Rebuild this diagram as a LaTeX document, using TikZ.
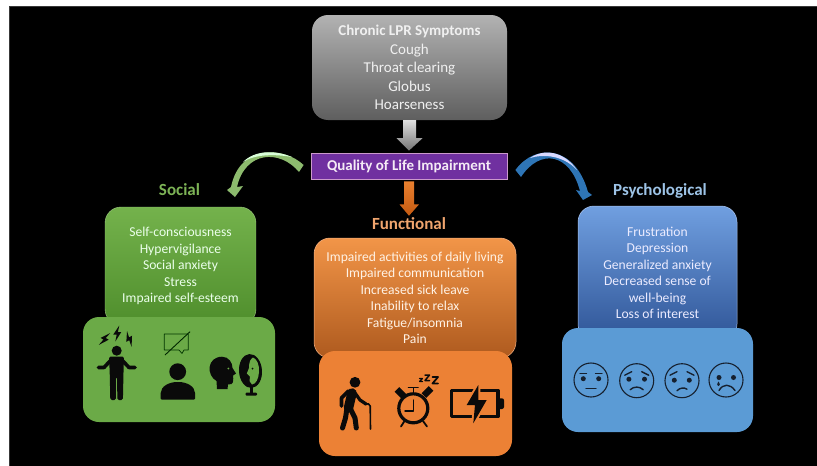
\documentclass[tikz,border=0pt]{standalone}
\usepackage{fontspec}
\setmainfont{Carlito}
\usetikzlibrary{calc}
\definecolor{inkd}{HTML}{0A0A0A}
\definecolor{facel}{HTML}{16202E}
\definecolor{HTMLpurple}{HTML}{7030A0}
\definecolor{HTMLgreenT}{HTML}{74B24C}
\definecolor{HTMLgreenB}{HTML}{4F8E2C}
\definecolor{HTMLgreenH}{HTML}{7DB356}
\definecolor{HTMLgreenL}{HTML}{6BAA47}
\definecolor{HTMLgreenA}{HTML}{8DBB6E}
\definecolor{HTMLgreenP}{HTML}{A9D18E}
\definecolor{HTMLorangeT}{HTML}{F29548}
\definecolor{HTMLorangeB}{HTML}{AE5A1E}
\definecolor{HTMLorangeE}{HTML}{F4B183}
\definecolor{HTMLorangeH}{HTML}{F0A56E}
\definecolor{HTMLorangeL}{HTML}{EC8135}
\definecolor{HTMLorangeA}{HTML}{E9802F}
\definecolor{HTMLorangeC}{HTML}{C55A11}
\definecolor{HTMLblueT}{HTML}{709FE0}
\definecolor{HTMLblueB}{HTML}{2F5597}
\definecolor{HTMLblueE}{HTML}{A9C4EE}
\definecolor{HTMLblueH}{HTML}{9DC3E6}
\definecolor{HTMLblueL}{HTML}{5B9BD5}
\definecolor{HTMLblueA}{HTML}{2E75B6}
\tikzset{
 upper/.style={rounded corners=16pt,inner sep=0pt,align=center,text=#1},
 lower/.style={rounded corners=16pt,inner sep=0pt,fill=#1},
 head/.style={font=\fontsize{17}{20}\selectfont\bfseries,inner sep=0pt,text=#1},
 ic/.style={fill=inkd,draw=none},
 iln/.style={draw=inkd,line cap=round,line join=round},
 fc/.style={draw=facel,line width=1.1pt,line cap=round},
 eye/.style={fill=facel,draw=none},
 brow/.style={draw=facel,line width=1.4pt,line cap=round},
 bolt/.pic={\fill[inkd] (2,-8) -- (-4,1) -- (-0.6,1) -- (-2,8) -- (4,-1.5) -- (0.6,-1.5) -- cycle;},
 faceone/.pic={\draw[fc] (0,0) circle (17pt);
  \fill[eye] (-7.7,-1.3) circle (2.5pt) (7.7,-1.3) circle (2.5pt);
  \draw[brow] (-11,-6.5) -- (-4.5,-6.5) (4.5,-6.5) -- (11,-6.5);
  \draw[brow] (-5,8.5) -- (5,8.5);},
 facetwo/.pic={\draw[fc] (0,0) circle (17pt);
  \fill[eye] (-7.8,-1.5) circle (2.5pt) (7.8,-1.5) circle (2.5pt);
  \draw[brow] (-12,-5.5) -- (-5,-9) (5,-9) -- (12,-5.5);
  \draw[brow] (-6.5,9) .. controls (-3,5.5) and (3,5.5) .. (6.5,9);},
 facethree/.pic={\draw[fc] (0,0) circle (17pt);
  \fill[eye] (-7.7,-0.5) circle (2.5pt) (7.3,-0.5) circle (2.5pt);
  \draw[brow] (-12,-5.5) -- (-5,-9) (5,-9) -- (12,-5.5);
  \draw[brow] (-5,10) .. controls (-2,7) and (2,6.5) .. (5,8.5);},
 facefour/.pic={\draw[fc] (0,0) circle (17pt);
  \fill[eye] (-7,-2.5) circle (2.5pt) (7.5,-2.5) circle (2.5pt);
  \fill[eye] (-7.5,1.5) .. controls (-9.5,4.5) and (-9,6) .. (-7.5,6) .. controls (-6,6) and (-5.5,4.5) .. (-7.5,1.5) -- cycle;
  \draw[brow] (-7,10.5) .. controls (-3,3.5) and (4,3.5) .. (9,10.5);},
}
\begin{document}
\begin{tikzpicture}[x=1pt,y=-1pt]
\path[use as bounding box,fill=white] (0,0) rectangle (817,466);
\fill[black,draw=black!78,line width=0.8pt] (9.5,6.5) rectangle (830,480);

% upper cards
\node[upper=white!88!gray,top color=black!30,bottom color=black!63,minimum width=195pt,minimum height=105pt,font=\fontsize{15}{18.4}\selectfont] (sym) at (409.5,67.5)
 {\textbf{Chronic LPR Symptoms}\\Cough\\Throat clearing\\Globus\\Hoarseness};
\node[draw=white!60!violet,line width=0.8pt,fill=HTMLpurple,inner sep=0pt,minimum width=196pt,minimum height=26pt,text=white!92!violet,font=\fontsize{15}{16}\selectfont\bfseries] (qol) at (409,166) {\raisebox{-1.5pt}{Quality of Life Impairment}};

\node[upper=white!92!green,draw=HTMLgreenT!70!white,line width=0.4pt,top color=HTMLgreenT,bottom color=HTMLgreenB,minimum width=151pt,minimum height=118pt,font=\fontsize{13.6}{16.5}\selectfont] (soc) at (180.5,266)
 {Self-consciousness\\Hypervigilance\\Social anxiety\\Stress\\Impaired self-esteem};
\node[upper=white!90!orange,draw=HTMLorangeE,line width=0.5pt,top color=HTMLorangeT,bottom color=HTMLorangeB,minimum width=202pt,minimum height=120pt,font=\fontsize{13.6}{16.5}\selectfont] (fun) at (415,298)
 {Impaired activities of daily living\\Impaired communication\\Increased sick leave\\Inability to relax\\Fatigue/insomnia\\Pain};
\node[upper=white!92!blue,draw=HTMLblueE,line width=0.5pt,top color=HTMLblueT,bottom color=HTMLblueB,minimum width=159pt,minimum height=134pt,font=\fontsize{13.6}{16.5}\selectfont] (psy) at (657.5,273)
 {Frustration\\Depression\\Generalized anxiety\\Decreased sense of\\well-being\\Loss of interest};

% headings
\node[head=HTMLgreenH] (soch) at (179.5,190) {Social};
\node[head=HTMLorangeH] (funh) at (409,224) {Functional};
\node[head=HTMLblueH] (psyh) at (660,191) {Psychological};

% lower cards
\node[lower=HTMLgreenL,minimum width=192pt,minimum height=105pt] (socl) at (179,369.5) {};
\node[lower=HTMLorangeL,minimum width=193pt,minimum height=105pt] (funl) at (415.5,403.5) {};
\node[lower=HTMLblueL,minimum width=191pt,minimum height=104pt] (psyl) at (657.5,380) {};

% block connectors
\fill[top color=black!12,bottom color=black!55] ($(sym.south)+(-6.5,0)$) -- ++(0,18) -- ++(-6.5,0) -- ($(qol.north)+(0,-2)$) -- ($(sym.south)+(13,18)$) -- ++(-6.5,0) -- ++(0,-18) -- cycle;
\fill[top color=HTMLorangeA,bottom color=HTMLorangeC] ($(qol.south)+(-5,2)$) -- ++(0,23) -- ++(-4.5,0) -- ($(funh.north)+(0,-2)$) -- ($(qol.south)+(10,25)$) -- ++(-5,0) -- ++(0,-23) -- cycle;

% curved connectors
\coordinate (gs) at ($(qol.west)+(-7,-1)$);
\fill[HTMLgreenA] (gs) .. controls (285,147) and (240,143) .. (231,187) -- (227,190) -- (235,197) -- (243,186) -- (237,187) .. controls (245,151) and (280,149) .. (299,172) -- cycle;
\fill[white!85!green] (292,157) .. controls (275,150) and (255,150) .. (243,162) .. controls (255,154) and (275,154) .. cycle;
\coordinate (bs) at ($(qol.east)+(8,4)$);
\fill[HTMLblueA] (bs) .. controls (535,143) and (575,145) .. (588,192) -- (592,195) -- (583,200) -- (576,190) -- (580,191) .. controls (570,153) and (540,148) .. (521,177) -- cycle;
\fill[white!85!blue] (530,158) .. controls (543,149) and (563,150) .. (577,170) .. controls (563,155) and (543,154) .. cycle;

% icons: social
\fill[ic] (116.7,350.7) circle (5pt);
\fill[ic,rounded corners=1.5pt] (109,356.5) -- (124,356.5) -- (123.5,372) -- (122.9,400) -- (117.4,400) -- (117,377) -- (116,377) -- (115.8,400) -- (110.3,400) -- (109.7,372) -- cycle;
\draw[iln,line width=3.6pt] (111,360) -- (104,367.5) -- (98.5,367.5);
\draw[iln,line width=3.6pt] (122,360) -- (129,367.5) -- (135,367.5);
\pic[rotate=-30] at (104.5,339) {bolt};
\pic at (117.3,333.5) {bolt};
\pic[rotate=30] at (129.3,339) {bolt};
\draw[draw=black!80!green,line width=0.7pt,line join=round] (164.3,334) -- (188.3,334) -- (188.3,350) -- (184,350) -- (182,353.5) -- (179,350) -- (164.3,350) -- cycle;
\draw[black!85!green,line width=0.9pt] (165,355) -- (190,331.7);
\fill[ic] (177.7,371.7) circle (8.4pt);
\fill[ic,rounded corners=1pt] (160.7,399.5) -- (160.7,394) .. controls (160.7,386) and (170,382) .. (177.8,382) .. controls (186,382) and (195,386) .. (195,394) -- (195,399.5) -- cycle;
\fill[ic] (217,389) -- (216.5,381) .. controls (206,375) and (207,357) .. (222,356.7) .. controls (229,356.7) and (232.5,363) .. (232.5,368) -- (236,373.5) -- (233,375.5) .. controls (233.5,379) and (233.5,383) .. (231.5,384) -- (228,384.5) -- (227.5,389) -- cycle;
\fill[HTMLgreenL] (228.3,368.5) circle (1pt);
\fill[ic,rotate around={4:(250.5,371)}] (250.5,371) ellipse (11.5pt and 17pt);
\fill[HTMLgreenL] (253,357.5) .. controls (257,359) and (259.5,365) .. (259,372) .. controls (258.5,379) and (256,384) .. (252,384.5) -- (249.5,381) -- (250,376.5) -- (246.8,373.5) -- (249,368) .. controls (249,363) and (250,359) .. (253,357.5) -- cycle;
\fill[ic] (252.5,368.5) circle (1pt);
\fill[ic] (249.5,387) rectangle (252.5,393);
\fill[ic,rounded corners=1pt] (245.5,392.5) rectangle (257,395.5);

% icons: functional
\fill[ic] (355,382.3) circle (5.4pt);
\draw[iln,line width=9.5pt] (352,393) -- (348.5,408);
\draw[iln,line width=5pt] (347,408) -- (345.5,418) -- (342.5,428);
\draw[iln,line width=5pt] (350,408) -- (355,418) -- (356.3,428);
\draw[iln,line width=3.6pt] (348.5,391) -- (341.5,398) -- (341.5,406);
\draw[iln,line width=3.2pt] (354,391.5) -- (360,400) -- (366,404);
\draw[iln,line width=1.6pt] (365,404.5) .. controls (367,403) and (370,403.5) .. (370.2,406) -- (370.5,429);
\draw[iln,line width=3.2pt] (413.3,408.3) circle (14.5pt);
\draw[iln,line width=1.5pt] (413.3,400) -- (413.3,411) -- (405,411);
\fill[ic,rotate around={-45:(400.5,393)}] (395.5,389.7) rectangle (405.5,396.3);
\fill[ic,rotate around={45:(427.5,392)}] (422.5,388.7) rectangle (432.5,395.3);
\draw[iln,line width=1.6pt] (413.3,393) -- (413.3,388) (408.5,387.5) -- (418,387.5);
\draw[iln,line width=1.8pt] (401,426.5) -- (404.5,421) (427,426.5) -- (423,421);
\draw[iln,line width=1.1pt] (419.5,378.5) -- (422.5,378.5) -- (419.5,381.5) -- (422.5,381.5);
\draw[iln,line width=1.5pt] (425,375) -- (429.5,375) -- (425,380.5) -- (429.5,380.5);
\draw[iln,line width=1.8pt] (432.5,377) -- (438,377) -- (432.5,383.5) -- (438,383.5);
\draw[iln,line width=3.2pt,line join=round] (451.5,390.5) rectangle (498,416.5);
\fill[ic,rounded corners=2pt] (497,398.3) rectangle (504,409);
\draw[HTMLorangeL,line width=4pt,line join=miter] (478.3,385) -- (466.7,405) -- (475,405) -- (473.3,423.3) -- (486.7,400) -- (478.3,400) -- cycle;
\fill[ic] (478.3,385) -- (466.7,405) -- (475,405) -- (473.3,423.3) -- (486.7,400) -- (478.3,400) -- cycle;

% icons: psychological
\pic at (591,380) {faceone};
\pic at (636.7,380.7) {facetwo};
\pic at (682,380.7) {facethree};
\pic at (726,380) {facefour};
\end{tikzpicture}
\end{document}
